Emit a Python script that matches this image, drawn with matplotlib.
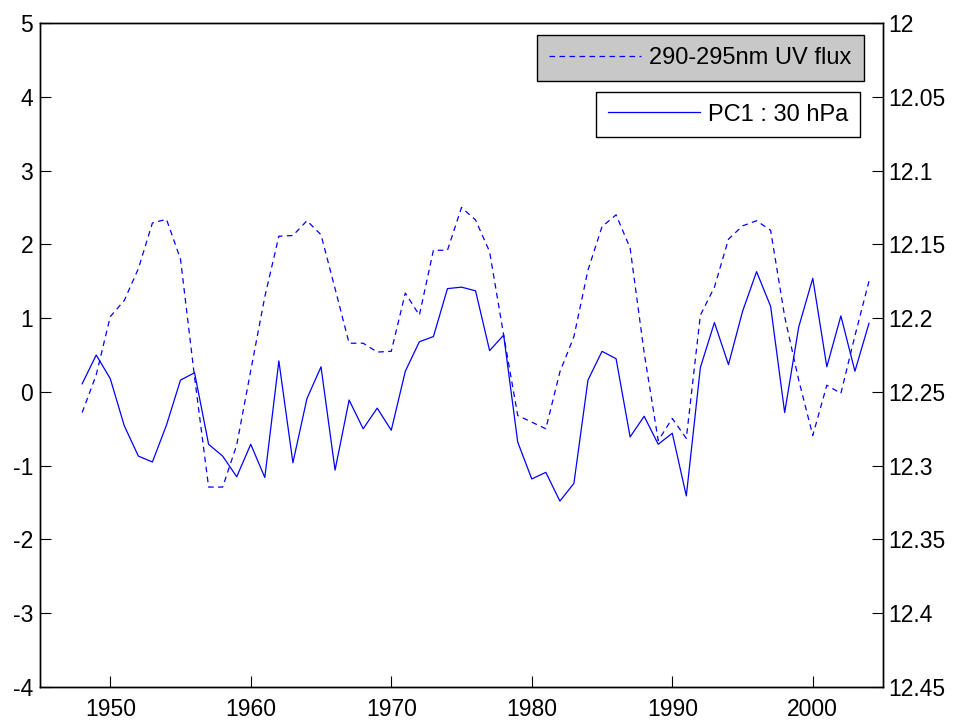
import numpy as np
import matplotlib
matplotlib.use("Agg")
import matplotlib.pyplot as plt

plt.rcParams['font.family'] = ['Liberation Sans', 'DejaVu Sans']
plt.rcParams['axes.unicode_minus'] = False

years = np.arange(1948, 2005)

# PC1 at 30 hPa (left axis)
pc1 = [0.11, 0.50, 0.18, -0.46, -0.87, -0.95, -0.45, 0.16, 0.26, -0.71,
       -0.87, -1.15, -0.71, -1.16, 0.42, -0.96, -0.09, 0.34, -1.06, -0.11,
       -0.50, -0.22, -0.52, 0.28, 0.68, 0.75, 1.40, 1.42, 1.37, 0.56,
       0.77, -0.68, -1.18, -1.09, -1.48, -1.24, 0.16, 0.55, 0.45, -0.61,
       -0.33, -0.71, -0.56, -1.41, 0.33, 0.94, 0.37, 1.09, 1.63, 1.16,
       -0.28, 0.88, 1.54, 0.34, 1.03, 0.28, 0.93]

# 290-295nm UV flux (right axis, reversed)
uv = [12.264, 12.2385, 12.199, 12.188, 12.1665, 12.1355, 12.133, 12.160, 12.240, 12.3145,
      12.3145, 12.286, 12.2355, 12.1855, 12.1445, 12.144, 12.134, 12.1435, 12.180, 12.217,
      12.217, 12.223, 12.2225, 12.183, 12.198, 12.154, 12.154, 12.125, 12.1335, 12.155,
      12.2115, 12.266, 12.2705, 12.275, 12.2365, 12.2125, 12.1675, 12.138, 12.130, 12.1525,
      12.2235, 12.283, 12.268, 12.2815, 12.198, 12.179, 12.1465, 12.1375, 12.134, 12.1405,
      12.199, 12.242, 12.2795, 12.2455, 12.251, 12.212, 12.175]

left_ticks = [-4, -3, -2, -1, 0, 1, 2, 3, 4, 5]
right_ticks = [12, 12.05, 12.1, 12.15, 12.2, 12.25, 12.3, 12.35, 12.4, 12.45]
right_labels = ['12', '12.05', '12.1', '12.15', '12.2', '12.25', '12.3', '12.35', '12.4', '12.45']
x_ticks = [1950, 1960, 1970, 1980, 1990, 2000]

fs = 16.5      # tick labels
lfs = 17       # legend text
fig = plt.figure(figsize=(9.57, 7.24), dpi=100)
ax1 = fig.add_axes([0.0418, 0.0511, 0.8809, 0.9171])
ax2 = ax1.twinx()

h1, = ax1.plot(years, pc1, color='#0000ff', lw=0.9)
h2, = ax2.plot(years, uv, color='#0000ff', lw=0.9, dashes=(4.5, 3.5))

ax1.set_xlim(1945, 2005)
ax1.set_ylim(-4, 5)
ax1.set_xticks(x_ticks)
ax1.set_yticks(left_ticks)
ax1.tick_params(direction='in', length=8, width=0.8, labelsize=fs, pad=5,
                top=False, right=False)
ax1.tick_params(axis='x', pad=8)

ax2.set_ylim(12.45, 12)
ax2.set_yticks(right_ticks)
ax2.set_yticklabels(right_labels)
ax2.tick_params(direction='in', length=8, width=0.8, labelsize=fs, pad=4)

for ax in (ax1, ax2):
    for s in ax.spines.values():
        s.set_linewidth(1.0)

# two separate legend boxes
leg1 = ax2.legend([h2], ['290-295nm UV flux'], loc='upper right',
                  bbox_to_anchor=(0.977, 0.982), borderaxespad=0,
                  fontsize=lfs, fancybox=False, framealpha=1,
                  handlelength=3.9, handletextpad=0.35, borderpad=0.5)
leg1.get_frame().set_facecolor('#c8c8c8')
leg1.get_frame().set_edgecolor('black')
ax2.add_artist(leg1)

leg2 = ax2.legend([h1], ['PC1 : 30 hPa'], loc='upper right',
                  bbox_to_anchor=(0.973, 0.8965), borderaxespad=0,
                  fontsize=lfs, fancybox=False, framealpha=1,
                  handlelength=3.9, handletextpad=0.35, borderpad=0.5)
leg2.get_frame().set_facecolor('white')
leg2.get_frame().set_edgecolor('black')

fig.savefig('out.png', dpi=100)
